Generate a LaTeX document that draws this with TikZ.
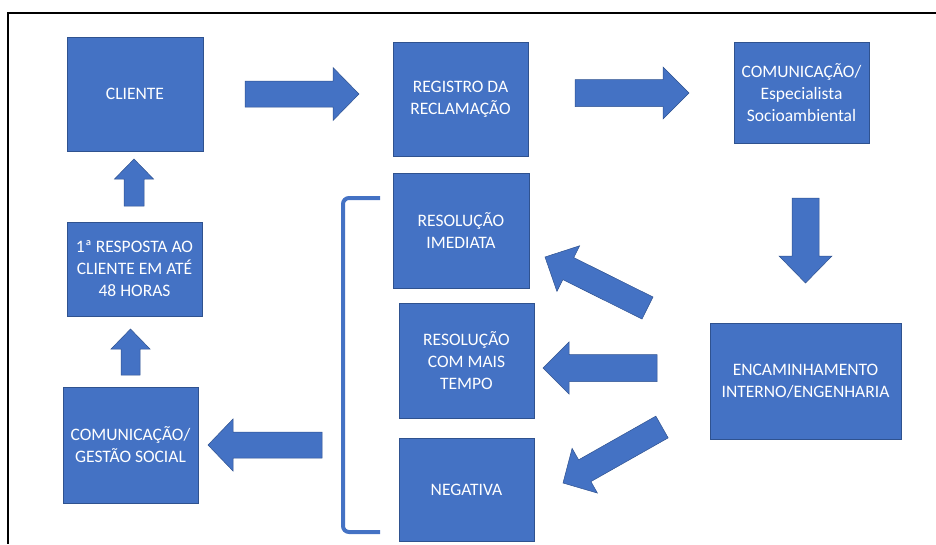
\documentclass[tikz,border=0pt]{standalone}
\usepackage{fontspec}
\setmainfont{Carlito}
\usetikzlibrary{calc}
\definecolor{boxblue}{HTML}{4472C4}
\definecolor{boxedge}{HTML}{2F528F}
\newcommand\blockarrow[5]{% #1 start, #2 tip, #3 shaft half width, #4 head half width, #5 head length
  \coordinate (#1n) at ($(#2)!#5!(#1)$);
  \filldraw[barrow] ($(#1)!#3!90:(#2)$) -- ($(#1n)!#3!90:(#2)$) -- ($(#1n)!#4!90:(#2)$) -- (#2)
    -- ($(#1n)!#4!-90:(#2)$) -- ($(#1n)!#3!-90:(#2)$) -- ($(#1)!#3!-90:(#2)$) -- cycle;
}
\begin{document}
\begin{tikzpicture}[x=1pt,y=-1pt,
  box/.style={fill=boxblue, draw=boxedge, line width=0.6pt, text=white,
    font=\fontsize{17.5}{22}\selectfont, align=center, inner sep=0pt, outer sep=0pt},
  barrow/.style={fill=boxblue, draw=boxedge, line width=0.5pt, line join=miter}]
\useasboundingbox (0,0) rectangle (936,544);

% frame
\coordinate (fr1) at (936,13);
\coordinate (fr2) at (8,13);
\coordinate (fr3) at (8,544);
\draw[line width=2pt, line join=miter] (fr1) -- (fr2) -- (fr3);

% boxes
\node[box, minimum width=136pt, minimum height=114pt] (cliente) at (135,94) {CLIENTE};
\node[box, minimum width=135pt, minimum height=114pt] (registro) at (460.5,99) {REGISTRO DA\\RECLAMAÇÃO};
\node[box, minimum width=135pt, minimum height=101pt] (comm) at (801.5,92.5) {COMUNICAÇÃO/\\Especialista\\Socioambiental};
\node[box, minimum width=136pt, minimum height=115pt] (imediata) at (461,230.5) {RESOLUÇÃO\\IMEDIATA};
\node[box, minimum width=135pt, minimum height=115pt] (maistempo) at (466.5,360.5) {RESOLUÇÃO\\COM MAIS\\TEMPO};
\node[box, minimum width=135pt, minimum height=103pt] (negativa) at (466.5,489.5) {NEGATIVA};
\node[box, minimum width=191pt, minimum height=116pt] (encam) at (805.5,381) {ENCAMINHAMENTO\\INTERNO/ENGENHARIA};
\node[box, minimum width=135pt, minimum height=116pt] (gestao) at (130.5,445) {COMUNICAÇÃO/\\GESTÃO SOCIAL};
\node[box, minimum width=135pt, minimum height=94pt] (resposta) at (134.5,269) {1ª RESPOSTA AO\\CLIENTE EM ATÉ\\48 HORAS};

% block arrows
\coordinate (a1s) at (245,94);    \coordinate (a1e) at (359,94);
\coordinate (a2s) at (575,93);    \coordinate (a2e) at (689,93);
\coordinate (a3s) at (805.5,198); \coordinate (a3e) at (805.5,283);
\coordinate (a4s) at (647.5,308); \coordinate (a4e) at (545,257);
\coordinate (a5s) at (657,368);   \coordinate (a5e) at (543,368);
\coordinate (a6s) at (662,427);   \coordinate (a6e) at (563,483);
\coordinate (a7s) at (322,445);   \coordinate (a7e) at (208,445);
\coordinate (a8s) at (134,206);   \coordinate (a8e) at (134,159);
\coordinate (a9s) at (130.5,375); \coordinate (a9e) at (130.5,329);
\blockarrow{a1s}{a1e}{13pt}{26.5pt}{26pt}
\blockarrow{a2s}{a2e}{13.5pt}{26pt}{26pt}
\blockarrow{a3s}{a3e}{13.5pt}{26.5pt}{27pt}
\blockarrow{a4s}{a4e}{12.3pt}{25.5pt}{26pt}
\blockarrow{a5s}{a5e}{13.5pt}{26pt}{26pt}
\blockarrow{a6s}{a6e}{12.5pt}{25.7pt}{25pt}
\blockarrow{a7s}{a7e}{13pt}{26pt}{25pt}
\blockarrow{a8s}{a8e}{10pt}{19.5pt}{20pt}
\blockarrow{a9s}{a9e}{9.5pt}{19.5pt}{20pt}

% bracket
\coordinate (bt) at (380,198);
\coordinate (bb) at (380,532);
\draw[boxblue, line width=4pt, rounded corners=6pt] (bt) -| (343,532) -- (bb);
\end{tikzpicture}
\end{document}
